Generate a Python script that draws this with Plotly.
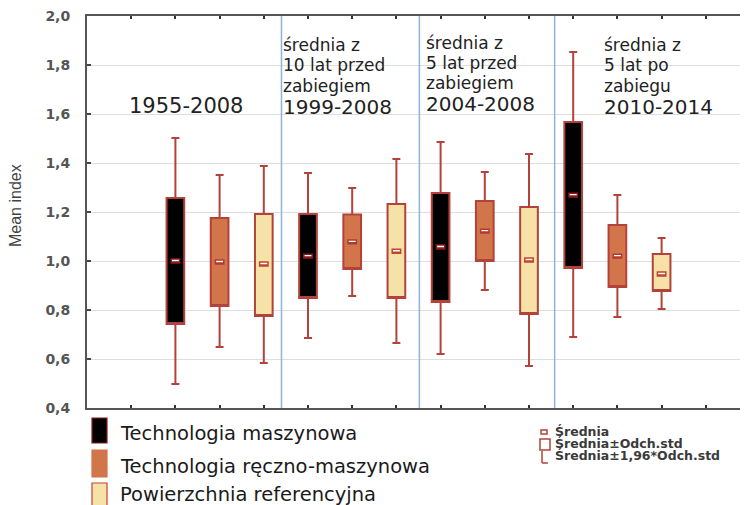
import plotly.graph_objects as go

# ---------------- data ----------------
series_names = ["Technologia maszynowa", "Technologia ręczno-maszynowa", "Powierzchnia referencyjna"]
positions_machine = [2, 5, 8, 11]
positions_manual = [3, 6, 9, 12]
positions_ref = [4, 7, 10, 13]

mean_machine = [1.000, 1.020, 1.057, 1.269]
sd_lo_machine = [0.743, 0.849, 0.833, 0.971]
sd_hi_machine = [1.257, 1.192, 1.278, 1.567]
ci_lo_machine = [0.498, 0.686, 0.620, 0.690]
ci_hi_machine = [1.502, 1.359, 1.486, 1.853]

mean_manual = [0.996, 1.078, 1.122, 1.020]
sd_lo_manual = [0.816, 0.967, 1.000, 0.894]
sd_hi_manual = [1.176, 1.190, 1.245, 1.147]
ci_lo_manual = [0.649, 0.857, 0.882, 0.771]
ci_hi_manual = [1.351, 1.298, 1.363, 1.269]

mean_ref = [0.988, 1.040, 1.004, 0.947]
sd_lo_ref = [0.776, 0.849, 0.784, 0.878]
sd_hi_ref = [1.192, 1.233, 1.220, 1.029]
ci_lo_ref = [0.584, 0.665, 0.571, 0.804]
ci_hi_ref = [1.388, 1.416, 1.437, 1.094]

y_ticks = [0.4, 0.6, 0.8, 1.0, 1.2, 1.4, 1.6, 1.8, 2.0]
y_ticklabels = ["0,4", "0,6", "0,8", "1,0", "1,2", "1,4", "1,6", "1,8", "2,0"]
separators_x = [4.40, 7.52, 10.58]
period_label_1 = "1955-2008"
panel_texts = [
    ["średnia z", "10 lat przed", "zabiegiem", "1999-2008"],
    ["średnia z", "5 lat przed", "zabiegiem", "2004-2008"],
    ["średnia z", "5 lat po", "zabiegu", "2010-2014"],
]
stat_legend = ["Średnia", "Średnia±Odch.std", "Średnia±1,96*Odch.std"]

# ---------------- style / geometry ----------------
FILL = ["#000000", "#d2754b", "#f6e2a6"]
EDGE = ["#8a1c1c", "#b23a2c", "#c0442f"]
WHISK = "#b3433a"
OFF = 8                       # page body margin in the browser
W, H = 748 - OFF, 505 - OFF
ML, MR, MT, MB = 87 - OFF, 0, 16 - OFF, 97
PW, PH = W - ML - MR, H - MT - MB
XMAX = PW / 44.2


def pxx(x):  # page pixel x -> paper
    return (x - OFF - ML) / PW


def pxy(y):  # page pixel y -> paper
    return (H - MB - (y - OFF)) / PH


fig = go.Figure()

groups = [
    (positions_machine, mean_machine, sd_lo_machine, sd_hi_machine, ci_lo_machine, ci_hi_machine),
    (positions_manual, mean_manual, sd_lo_manual, sd_hi_manual, ci_lo_manual, ci_hi_manual),
    (positions_ref, mean_ref, sd_lo_ref, sd_hi_ref, ci_lo_ref, ci_hi_ref),
]

for i, (pos, mean, lo, hi, clo, chi) in enumerate(groups):
    fig.add_trace(go.Box(
        x=pos, q1=lo, q3=hi, median=lo, lowerfence=clo, upperfence=chi,
        width=0.4, whiskerwidth=0.45,
        fillcolor=FILL[i], line=dict(color=WHISK, width=2),
        name=series_names[i], boxpoints=False, hoverinfo="skip",
    ))

# mean markers
for i, (pos, mean, lo, hi, clo, chi) in enumerate(groups):
    mlo = [m - 0.008 for m in mean]
    mhi = [m + 0.008 for m in mean]
    fig.add_trace(go.Box(
        x=pos, q1=mlo, q3=mhi, median=mlo, lowerfence=mlo, upperfence=mhi,
        width=0.19, whiskerwidth=0,
        fillcolor="#ffffff", line=dict(color=EDGE[i], width=1.5),
        boxpoints=False, hoverinfo="skip", showlegend=False,
    ))

shapes = []
for sx in separators_x:
    shapes.append(dict(type="line", xref="x", yref="paper", x0=sx, x1=sx, y0=0, y1=1,
                       line=dict(color="#8fb4d9", width=1.5), layer="above"))

annotations = []
TXT_FONT = "DejaVu Sans, sans-serif"
annotations.append(dict(xref="paper", yref="paper", x=pxx(186), y=pxy(106), text=period_label_1,
                        showarrow=False, xanchor="center", yanchor="middle",
                        font=dict(family=TXT_FONT, size=21, color="#222")))
panel_x = [283, 426, 604]
panel_y = [[45, 65, 86, 107], [43, 63, 83, 104], [45, 65, 86, 107]]
for lines, x0, ys in zip(panel_texts, panel_x, panel_y):
    for j, (t, yy) in enumerate(zip(lines, ys)):
        annotations.append(dict(xref="paper", yref="paper", x=pxx(x0 - 2), y=pxy(yy), text=t,
                                showarrow=False, xanchor="left", yanchor="middle",
                                font=dict(family=TXT_FONT, size=20 if j == 3 else 17, color="#222")))

# y-axis title
annotations.append(dict(xref="paper", yref="paper", x=pxx(15), y=pxy(206), text="Mean index",
                        showarrow=False, textangle=-90, xanchor="center", yanchor="middle",
                        font=dict(family="Liberation Sans Narrow, Arial Narrow, Liberation Sans, sans-serif",
                                  size=16, color="#444")))

# series legend (bottom-left)
leg_rows = [(418, 443), (450, 477), (483, 507)]
leg_text_y = [433, 466, 494]
for i, ((y0, y1), ty) in enumerate(zip(leg_rows, leg_text_y)):
    shapes.append(dict(type="rect", xref="paper", yref="paper", x0=pxx(92), x1=pxx(107),
                       y0=pxy(y1), y1=pxy(y0), fillcolor=FILL[i],
                       line=dict(color=EDGE[i] if i != 1 else FILL[i], width=1.2)))
    annotations.append(dict(xref="paper", yref="paper", x=pxx(118), y=pxy(ty), text=series_names[i],
                            showarrow=False, xanchor="left", yanchor="middle",
                            font=dict(family=TXT_FONT, size=19.5, color="#1a1a1a")))

# statistic legend (bottom-right)
sc = "#b3433a"
shapes.append(dict(type="rect", xref="paper", yref="paper", x0=pxx(541), x1=pxx(547),
                   y0=pxy(434), y1=pxy(430), fillcolor="white", line=dict(color=sc, width=1.5)))
shapes.append(dict(type="rect", xref="paper", yref="paper", x0=pxx(540), x1=pxx(550),
                   y0=pxy(450), y1=pxy(439), fillcolor="white", line=dict(color=sc, width=1.5)))
shapes.append(dict(type="line", xref="paper", yref="paper", x0=pxx(542), x1=pxx(542),
                   y0=pxy(463), y1=pxy(451), line=dict(color=sc, width=1.5)))
shapes.append(dict(type="line", xref="paper", yref="paper", x0=pxx(542), x1=pxx(548),
                   y0=pxy(463), y1=pxy(463), line=dict(color=sc, width=1.5)))
for t, yy in zip(stat_legend, [431.5, 443.5, 456]):
    annotations.append(dict(xref="paper", yref="paper", x=pxx(553), y=pxy(yy), text=t,
                            showarrow=False, xanchor="left", yanchor="middle",
                            font=dict(family="DejaVu Sans, sans-serif", size=12.5, color="#3a3a3a",
                                      weight="bold")))

fig.update_layout(
    width=W, height=H,
    margin=dict(l=ML, r=MR, t=MT, b=MB, pad=0, autoexpand=False),
    paper_bgcolor="white", plot_bgcolor="white",
    showlegend=False, boxmode="overlay",
    shapes=shapes, annotations=annotations,
    xaxis=dict(range=[0, XMAX], tickvals=list(range(1, 15)), showticklabels=False,
               ticks="inside", ticklen=3, tickwidth=2, tickcolor="#333",
               showline=True, linecolor="#555", linewidth=2, mirror="allticks",
               showgrid=False, zeroline=False, automargin=False),
    yaxis=dict(range=[0.4, 2.0], tickvals=y_ticks, ticktext=y_ticklabels,
               ticks="inside", ticklen=4, tickwidth=1.5, tickcolor="#444",
               showline=True, linecolor="#555", linewidth=2, mirror="allticks",
               showgrid=True, gridcolor="#dedede", gridwidth=1, zeroline=False,
               ticklabelstandoff=12, automargin=False, ticklabeloverflow="allow",
               tickfont=dict(family="DejaVu Sans, sans-serif", size=14, color="#555", weight="bold")),
)

fig.write_html("out.html")
